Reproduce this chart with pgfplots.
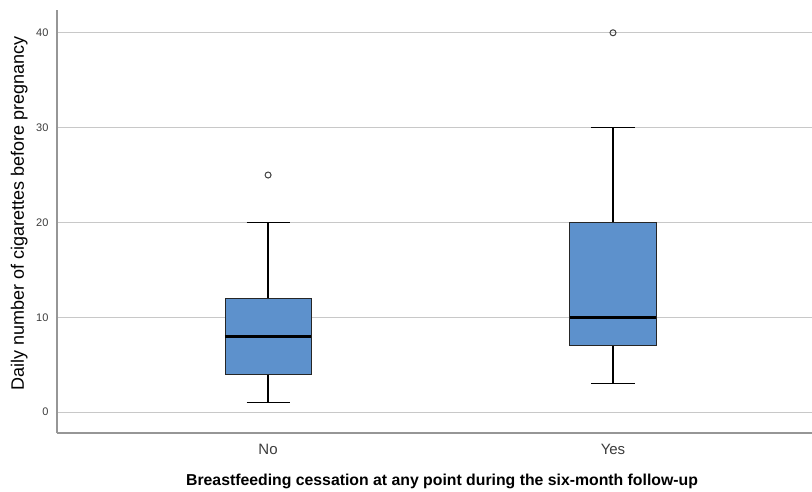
\documentclass[border=0pt]{standalone}
\usepackage{pgfplots}
\pgfplotsset{compat=1.18}
\usepgfplotslibrary{statistics}
\usepackage{fontspec}
\setmainfont{Liberation Sans}
\definecolor{boxblue}{RGB}{93,145,204}
\definecolor{gridgray}{RGB}{200,200,200}
\definecolor{axisgray}{RGB}{150,150,150}
\definecolor{ticktext}{RGB}{60,60,60}
\begin{document}
\begin{tikzpicture}
\useasboundingbox (-57pt,-58pt) rectangle (755pt,433pt);
\begin{axis}[
  scale only axis, width=755pt, height=423pt,
  at={(0,0)}, anchor=south west,
  xmin=0.388, xmax=2.577, ymin=-2.2, ymax=42.4,
  axis lines=left,
  axis line style={-, axisgray, line width=1.2pt},
  xtick={1,2}, xticklabels={No,Yes},
  ytick={0,10,20,30,40},
  major tick length=0pt,
  ymajorgrids, grid style={gridgray, line width=1pt},
  x tick label style={font=\fontsize{15}{17}\selectfont, text=ticktext, yshift=-8pt},
  y tick label style={font=\fontsize{11}{13}\selectfont, text=ticktext, xshift=-5pt},
  /pgf/number format/assume math mode=true,
  every axis y label/.style={at={(axis description cs:-0.050,0.52)}, rotate=90, anchor=center},
  every axis x label/.style={at={(axis description cs:0.51,-0.1135)}, anchor=center},
  xlabel={\fontsize{15.8}{17}\selectfont\bfseries Breastfeeding cessation at any point during the six-month follow-up},
  ylabel={\fontsize{18}{20}\selectfont Daily number of cigarettes before pregnancy},
  boxplot/draw direction=y,
  boxplot/box extend=0.25,
  boxplot/whisker extend=0.125,
  boxplot/every box/.style={draw=black!85, line width=0.8pt, fill=boxblue},
  boxplot/every whisker/.style={black, line width=1.2pt},
  boxplot/every median/.style={black, line width=2.6pt},
]
\addplot[boxplot prepared={draw position=1, lower whisker=1, lower quartile=4, median=8, upper quartile=12, upper whisker=20},
  mark=o, mark size=3pt, mark options={black!75, line width=1pt}]
  coordinates {(0,25)};
\addplot[boxplot prepared={draw position=2, lower whisker=3, lower quartile=7, median=10, upper quartile=20, upper whisker=30},
  mark=o, mark size=3pt, mark options={black!75, line width=1pt}]
  coordinates {(0,40)};
\end{axis}
\end{tikzpicture}
\end{document}
